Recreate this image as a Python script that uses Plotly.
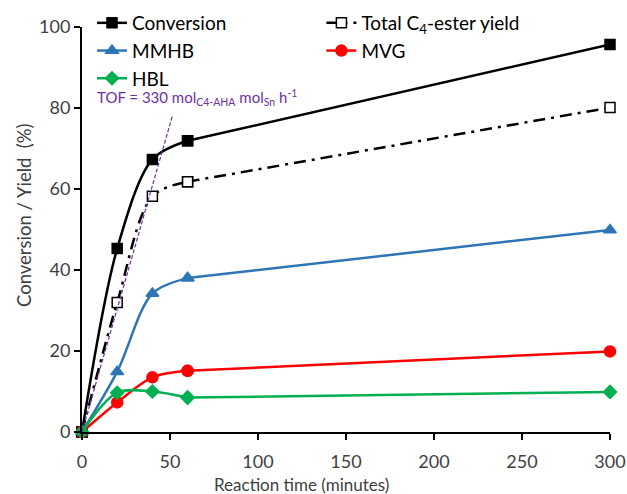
import plotly.graph_objects as go

time_min = [0, 20, 40, 60, 300]
conversion = [0, 45.3, 67.3, 71.9, 95.7]
total_c4 = [0, 32.0, 58.2, 61.8, 80.1]
mmhb = [0, 14.9, 34.2, 38.0, 49.9]
mvg = [0, 7.3, 13.5, 15.1, 19.9]
hbl = [0, 9.7, 10.0, 8.5, 9.9]
tof_x = [0, 51.5]
tof_y = [0, 78.3]

FONT = "Lato"
W, H = 627, 494
ML, MR, MT, MB = 82, 17, 27, 62
PW, PH = W - ML - MR, H - MT - MB

def px_x(p):
    return (p - ML) / PW

def px_y(p):
    return (H - MB - p) / PH

fig = go.Figure()

def add(name, y, color, symbol, size, dash="solid", fill=None):
    mk = dict(symbol=symbol, size=size, color=fill if fill else color,
              line=dict(color=color, width=1.5))
    # curved early part (0-60 min)
    fig.add_trace(go.Scatter(
        x=time_min[:4], y=y[:4], name=name, mode="lines+markers", legendgroup=name,
        line=dict(color=color, width=2.5, dash=dash, shape="spline", smoothing=0.9),
        marker=mk, cliponaxis=False))
    # straight late part (60-300 min)
    fig.add_trace(go.Scatter(
        x=time_min[3:], y=y[3:], name=name, mode="lines+markers", legendgroup=name,
        showlegend=False,
        line=dict(color=color, width=2.5, dash=dash),
        marker=mk, cliponaxis=False))

add("Conversion", conversion, "black", "square", 10)
add("Total C<sub>4</sub>-ester yield", total_c4, "black", "square", 10, dash="12px,6px,3px,6px", fill="white")
add("MMHB", mmhb, "#2E75B6", "triangle-up", 11)
add("MVG", mvg, "#FF0000", "circle", 11)
add("HBL", hbl, "#00B050", "diamond", 10)

fig.add_trace(go.Scatter(x=tof_x, y=tof_y, mode="lines", showlegend=False,
                         line=dict(color="#7030A0", width=1.2, dash="4px,2px"), cliponaxis=False))

fig.add_annotation(x=px_x(95), y=px_y(98), xref="paper", yref="paper", xanchor="left", yanchor="middle",
                   showarrow=False,
                   text="TOF = 330 mol<sub>C4-AHA</sub> mol<sub>Sn</sub> h<sup>-1</sup>",
                   font=dict(family=FONT, size=15, color="#7030A0"))

# axis titles
fig.add_annotation(x=px_x(301), y=px_y(484), xref="paper", yref="paper", xanchor="center", yanchor="middle",
                   showarrow=False, text="Reaction time (minutes)",
                   font=dict(family=FONT, size=17, color="#404040"))
fig.add_annotation(x=px_x(24), y=px_y(215), xref="paper", yref="paper", xanchor="center", yanchor="middle",
                   showarrow=False, textangle=-90, text="Conversion / Yield\u00a0\u00a0(%)",
                   font=dict(family=FONT, size=18.5, color="#404040"))

fig.update_layout(
    width=W, height=H,
    margin=dict(l=ML, r=MR, t=MT, b=MB, autoexpand=False),
    paper_bgcolor="white", plot_bgcolor="white",
    font=dict(family=FONT, size=18, color="#404040"),
    legend=dict(orientation="h", x=px_x(92), y=px_y(4), xanchor="left", yanchor="top",
                entrywidth=0.425, entrywidthmode="fraction",
                font=dict(family=FONT, size=19, color="black"),
                bgcolor="rgba(0,0,0,0)", tracegroupgap=0, itemwidth=30),
    xaxis=dict(range=[0, 300], tickvals=[0, 50, 100, 150, 200, 250, 300],
               showline=True, linecolor="black", linewidth=2, ticks="outside",
               ticklen=6, tickwidth=2, tickcolor="black", showgrid=False, zeroline=False,
               ticklabelstandoff=6,
               tickfont=dict(family=FONT, size=18, color="#404040")),
    yaxis=dict(range=[0, 100], tickvals=[0, 20, 40, 60, 80, 100],
               showline=True, linecolor="black", linewidth=2, ticks="outside",
               ticklen=6, tickwidth=2, tickcolor="black", showgrid=False, zeroline=False,
               tickfont=dict(family=FONT, size=18, color="#404040")),
)

fig.write_html("out.html")
